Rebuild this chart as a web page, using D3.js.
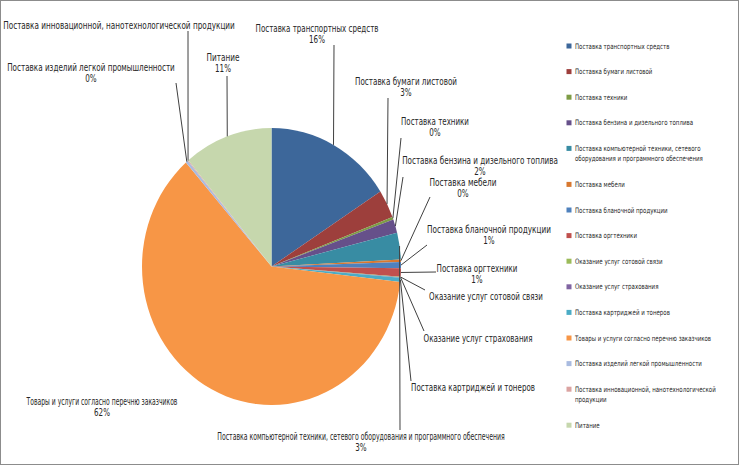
<!DOCTYPE html>
<html><head><meta charset="utf-8">
<script src="https://cdn.jsdelivr.net/npm/d3@7"></script>
<style>
body{margin:0;background:#fff;}
text{font-family:"DejaVu Sans Condensed","DejaVu Sans",sans-serif;fill:#262626;}
</style></head>
<body><svg id="c" width="740" height="466"></svg>
<script>
const categories = [
  "Поставка транспортных средств",
  "Поставка бумаги листовой",
  "Поставка техники",
  "Поставка бензина и дизельного топлива",
  "Поставка компьютерной техники, сетевого оборудования и программного обеспечения",
  "Поставка мебели",
  "Поставка бланочной продукции",
  "Поставка оргтехники",
  "Оказание услуг сотовой связи",
  "Оказание услуг страхования",
  "Поставка картриджей и тонеров",
  "Товары и услуги согласно перечню заказчиков",
  "Поставка изделий легкой промышленности",
  "Поставка инновационной, нанотехнологической продукции",
  "Питание"
];
const values = [15.9, 3.3, 0.3, 1.6, 3.1, 0.3, 0.7, 1.0, 0.05, 0.05, 0.5, 61.75, 0.3, 0.1, 11.1];
const legendLabels = [
  ["Поставка транспортных средств"],
  ["Поставка бумаги листовой"],
  ["Поставка техники"],
  ["Поставка бензина и дизельного топлива"],
  ["Поставка компьютерной техники, сетевого", "оборудования и программного обеспечения"],
  ["Поставка мебели"],
  ["Поставка бланочной продукции"],
  ["Поставка оргтехники"],
  ["Оказание услуг сотовой связи"],
  ["Оказание услуг страхования"],
  ["Поставка картриджей и тонеров"],
  ["Товары и услуги согласно перечню заказчиков"],
  ["Поставка изделий легкой промышленности"],
  ["Поставка инновационной, нанотехнологической", "продукции"],
  ["Питание"]
];
const showPct = [true,true,true,true,true,true,true,true,false,false,false,true,true,false,true];
const colors = ["#3d679a","#9d3f3c","#7e9c45","#66508a","#388ca3","#d8782f",
  "#4f81bd","#c0504d","#9bbb59","#8064a2","#4bacc6","#f79646",
  "#a9bbe0","#dba3a1","#c6d7ad"];
// label layout: [centerX, firstLineY, leaderEndX, leaderEndY, textWidth]
const labelLayout = [
  [317,28,334,45,123],[406,81,388,98,102],[435,121,401,138,68],[480,160,403,177,156],
  [361,436,400,430,288],[463,182,430,197,67],[489,229,427,245,124],[477,268,436,272,81],
  [486,296,425,290,114],[478,338,424,331,109],[473,387,411,381,124],[102,401,null,null,151],
  [91,67,176,83,168],[119,25,188,31,232],[223,57,227,76,33]
];

const svg = d3.select("#c");
svg.append("rect").attr("x",0.5).attr("y",0.5).attr("width",738).attr("height",464)
  .attr("fill","#fff").attr("stroke","#8c8c8c");

const cx = 271.5, cy = 266.5, r = 129.5, k = 138.5/129.5;
const total = d3.sum(values);
const pie = d3.pie().sort(null).value(d=>d);
const arcs = pie(values);
const arc = d3.arc().innerRadius(0).outerRadius(r);
const color = d3.scaleOrdinal().domain(categories).range(colors);

const g = svg.append("g").attr("transform",`translate(${cx},${cy}) scale(1,${k})`);
g.selectAll("path").data(arcs).join("path")
  .attr("d",arc).attr("fill",(d,i)=>color(categories[i]));

// leader lines
arcs.forEach((a,i)=>{
  const L = labelLayout[i];
  if(L[2]===null) return;
  const m = (a.startAngle+a.endAngle)/2;
  const x0 = cx + r*Math.sin(m), y0 = cy - r*k*Math.cos(m);
  svg.append("line").attr("x1",x0).attr("y1",y0).attr("x2",L[2]).attr("y2",L[3])
    .attr("stroke","#404040").attr("stroke-width",1);
});

// labels
arcs.forEach((a,i)=>{
  const L = labelLayout[i];
  const gl = svg.append("g").attr("transform",`translate(${L[0]},${L[1]})`);
  const t = gl.append("text").attr("text-anchor","middle").attr("font-size",10)
    .attr("dy","0.35em").text(categories[i]);
  const w = t.node().getComputedTextLength();
  t.attr("transform",`scale(${L[4]/w},1)`);
  if(showPct[i]) gl.append("text").attr("text-anchor","middle").attr("font-size",10)
    .attr("transform","scale(0.8,1)").attr("y",11.5).attr("dy","0.35em")
    .text(Math.round(values[i]/total*100)+"%");
});

// legend
let ly = 46;
const sxG = 0.81;
const lg = svg.append("g");
legendLabels.forEach((lines,i)=>{
  lg.append("rect").attr("x",566.5).attr("y",ly-2.5).attr("width",5).attr("height",5)
    .attr("fill",color(categories[i]));
  const t = lg.append("text").attr("font-size",7.5)
    .attr("transform",`translate(575,${ly}) scale(${sxG},1)`);
  lines.forEach((s,j)=>t.append("tspan").attr("x",0).attr("y",j*10.3).attr("dy","0.35em").text(s));
  ly += lines.length>1 ? 36 : 25.6;
});
</script></body></html>
